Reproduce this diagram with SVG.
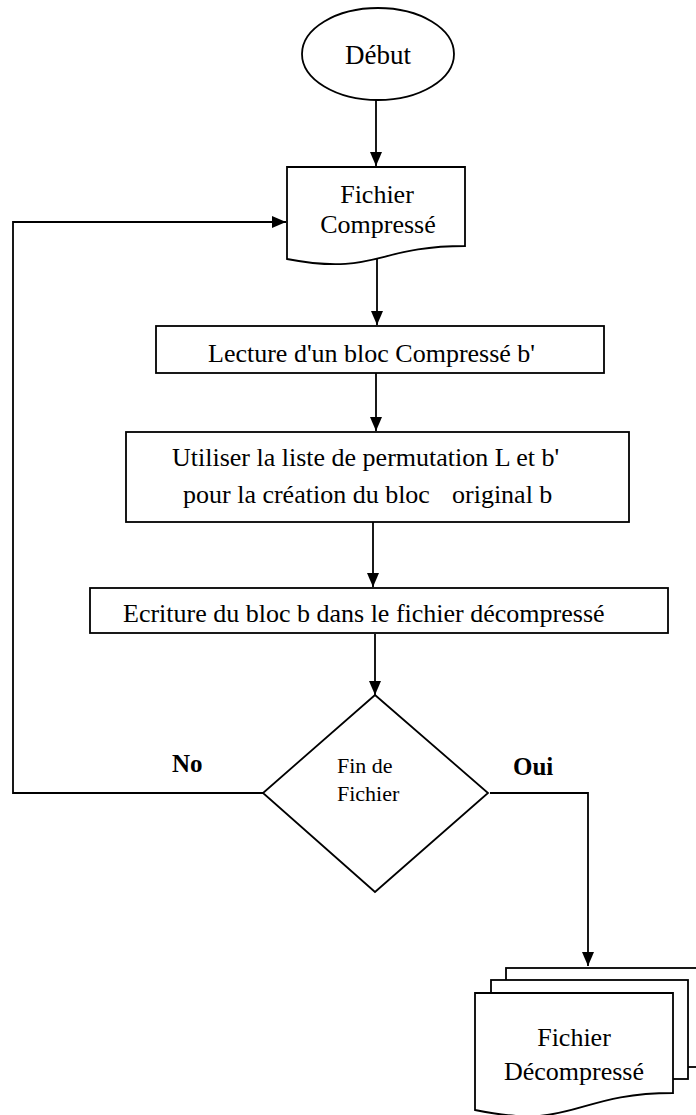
<svg xmlns="http://www.w3.org/2000/svg" width="696" height="1115" viewBox="0 0 696 1115">
<style>
.s{fill:#fff;stroke:#000;stroke-width:1.8}
.c{fill:none;stroke:#000;stroke-width:1.8}
.t{font-family:"Liberation Serif","Times New Roman",serif;font-size:26px;fill:#000}
.m{text-anchor:middle}
.b{font-weight:bold;font-size:25px}
</style>
<defs>
<marker id="ah" markerUnits="userSpaceOnUse" markerWidth="14" markerHeight="14" viewBox="0 0 14 12" refX="14" refY="6" orient="auto">
<path d="M0,0 L14,6 L0,12 Z" fill="#000"/>
</marker>
</defs>
<rect width="696" height="1115" fill="#fff"/>
<g id="connectors">
<line class="c" x1="376" y1="100" x2="376" y2="166" marker-end="url(#ah)"/>
<line class="c" x1="377" y1="257" x2="377" y2="325" marker-end="url(#ah)"/>
<line class="c" x1="376" y1="373" x2="376" y2="431" marker-end="url(#ah)"/>
<line class="c" x1="373" y1="522" x2="373" y2="587" marker-end="url(#ah)"/>
<line class="c" x1="375" y1="634" x2="375" y2="695" marker-end="url(#ah)"/>
<polyline class="c" points="263,793 13,793 13,222 286,222" marker-end="url(#ah)"/>
<polyline class="c" points="490,793 588,793 588,966" marker-end="url(#ah)"/>
<text class="t b" x="172" y="772">No</text>
<text class="t b" x="513" y="775">Oui</text>
</g>
<g id="debut">
<ellipse class="s" cx="378" cy="54" rx="76" ry="46"/>
<text class="t m" x="378" y="64" style="font-size:27px">Début</text>
</g>
<g id="fichier-compresse">
<path class="s" d="M287,167 H465 V246 C376,246 376,276 287,259 Z"/>
<text class="t m" x="377" y="203">Fichier</text>
<text class="t m" x="378" y="233">Compressé</text>
</g>
<g id="lecture">
<rect class="s" x="156" y="326" width="448" height="47"/>
<text class="t" x="208" y="362">Lecture d'un bloc Compressé b'</text>
</g>
<g id="utiliser">
<rect class="s" x="126" y="432" width="503" height="90"/>
<text class="t" x="172" y="466">Utiliser la liste de permutation L et b'</text>
<text class="t" y="503"><tspan x="183">pour la création du bloc</tspan><tspan x="452">original b</tspan></text>
</g>
<g id="ecriture">
<rect class="s" x="90" y="588" width="578" height="45"/>
<text class="t" x="123" y="622">Ecriture du bloc b dans le fichier décompressé</text>
</g>
<g id="fin-de-fichier">
<polygon class="s" points="375,695 488,793 375,892 263,793"/>
<text class="t" x="337" y="773" style="font-size:22px">Fin de</text>
<text class="t" x="337" y="801" style="font-size:22px">Fichier</text>
</g>
<g id="fichier-decompresse">
<rect class="s" x="506" y="968" width="197" height="99"/>
<rect class="s" x="491" y="980" width="197" height="99"/>
<path class="s" d="M475,993 H673 V1093 C574,1093 574,1131 475,1110 Z"/>
<text class="t m" x="574" y="1046">Fichier</text>
<text class="t m" x="574" y="1080">Décompressé</text>
</g>
</svg>
